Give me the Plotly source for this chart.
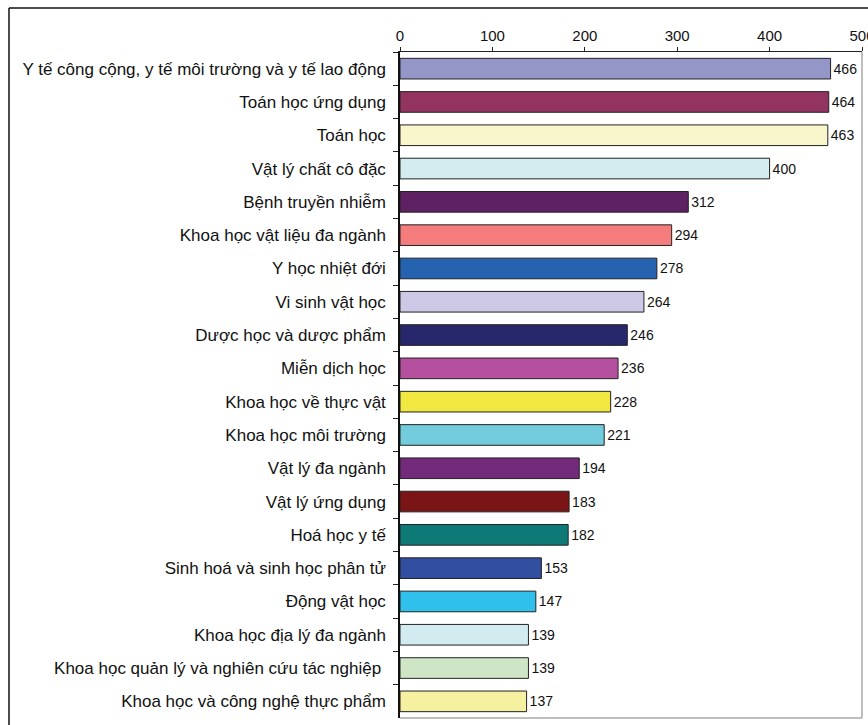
import plotly.graph_objects as go

categories = [
    "Y tế công cộng, y tế môi trường và y tế lao động",
    "Toán học ứng dụng",
    "Toán học",
    "Vật lý chất cô đặc",
    "Bệnh truyền nhiễm",
    "Khoa học vật liệu đa ngành",
    "Y học nhiệt đới",
    "Vi sinh vật học",
    "Dược học và dược phẩm",
    "Miễn dịch học",
    "Khoa học về thực vật",
    "Khoa học môi trường",
    "Vật lý đa ngành",
    "Vật lý ứng dụng",
    "Hoá học y tế",
    "Sinh hoá và sinh học phân tử",
    "Động vật học",
    "Khoa học địa lý đa ngành",
    "Khoa học quản lý và nghiên cứu tác nghiệp ",
    "Khoa học và công nghệ thực phẩm",
]
values = [466, 464, 463, 400, 312, 294, 278, 264, 246, 236, 228, 221, 194, 183, 182, 153, 147, 139, 139, 137]
colors = [
    "#9496C8", "#93335F", "#FAF6CC", "#D2ECF0", "#5E2163", "#F47C7C", "#2563B0",
    "#CCC8E6", "#27286C", "#B5509E", "#F0E840", "#72CCDC", "#742A7A", "#7A1416",
    "#0E7A78", "#324EA0", "#30C0EC", "#D2EBF0", "#CEE6C6", "#F6F1A0",
]
x_ticks = [0, 100, 200, 300, 400, 500]

FONT = "Arial, Liberation Sans, sans-serif"

fig = go.Figure(go.Bar(
    x=values,
    y=categories,
    orientation="h",
    marker=dict(color=colors, line=dict(color="#222222", width=1)),
    text=[str(v) for v in values],
    textposition="outside",
    textfont=dict(family=FONT, size=14, color="#111111"),
    cliponaxis=False,
))

L, R, T, B = 400, 6, 52, 7
W, H = 868, 725
pw, ph = W - L - R, H - T - B

def px_x(p):
    return (p - L) / pw

def px_y(p):
    return (H - B - p) / ph

fig.update_layout(
    width=W, height=H,
    margin=dict(l=L, r=R, t=T, b=B, pad=0, autoexpand=False),
    paper_bgcolor="white", plot_bgcolor="white",
    bargap=0.38,
    showlegend=False,
    font=dict(family=FONT, color="#111111"),
    xaxis=dict(
        side="top", range=[0, 500], tickvals=x_ticks,
        ticks="outside", ticklen=4, tickcolor="#222222",
        ticklabeloverflow="allow", automargin=False,
        showline=True, linecolor="#222222", linewidth=1,
        showgrid=False, zeroline=False,
        tickfont=dict(family=FONT, size=15, color="#111111"),
    ),
    yaxis=dict(
        autorange="reversed", type="category", automargin=False,
        ticks="outside", ticklen=5, tickcolor="#222222", tickson="boundaries",
        showline=True, linecolor="#111111", linewidth=1.5,
        showgrid=False, zeroline=False,
        ticklabelstandoff=9,
        tickfont=dict(family=FONT, size=17, color="#111111"),
    ),
    shapes=[
        # outer frame (left and top)
        dict(type="line", xref="paper", yref="paper",
             x0=px_x(9), x1=px_x(9), y0=px_y(8), y1=px_y(730),
             line=dict(color="#111111", width=1.5)),
        dict(type="line", xref="paper", yref="paper",
             x0=px_x(9), x1=px_x(872), y0=px_y(8), y1=px_y(8),
             line=dict(color="#111111", width=1.5)),
        # plot area right / bottom gray edges
        dict(type="line", xref="paper", yref="paper",
             x0=1, x1=1, y0=0, y1=1,
             line=dict(color="#A8A8A8", width=1.5)),
        dict(type="line", xref="paper", yref="paper",
             x0=0, x1=1, y0=0, y1=0,
             line=dict(color="#A8A8A8", width=1.5)),
    ],
)

fig.write_html("out.html")
